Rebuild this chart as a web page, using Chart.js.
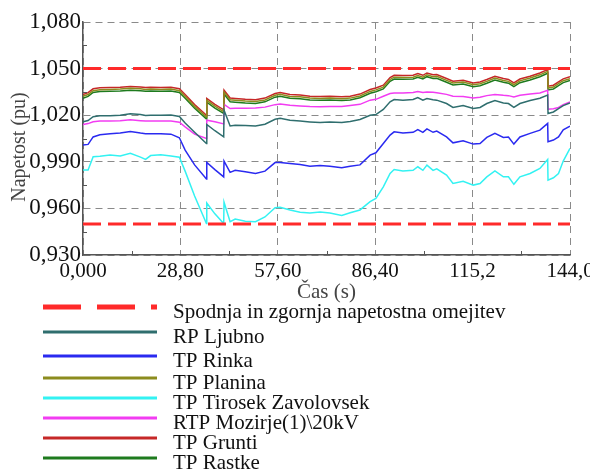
<!DOCTYPE html>
<html>
<head>
<meta charset="utf-8">
<script src="https://cdn.jsdelivr.net/npm/chart.js@4.4.1/dist/chart.umd.min.js"></script>
<style>
  html, body { margin: 0; padding: 0; background: #fff; }
  #wrap { width: 590px; height: 471px; position: relative; }
</style>
</head>
<body>
<div id="wrap"><canvas id="voltage"></canvas></div>
<script>
const time = [0, 1.5, 3, 5, 8, 11, 14, 17, 18.5, 20, 23, 26, 28.5, 30.2, 33, 36.5, 36.6, 39, 41.6, 41.7,
  43.5, 45, 48, 51, 53.8, 56.8, 58.3, 61.2, 64.2, 67.1, 70.1, 73, 76.5, 79, 81.9, 84.9, 86.6, 88.8, 90.8, 92,
  94.6, 97.6, 99, 100.5, 101.7, 103.5, 104.6, 107.5, 109.4, 112.4, 115.4, 117.4, 119.4, 121.8, 124.3, 125.8,
  127.4, 129.2, 132.2, 135.1, 137.4, 137.5, 139.1, 140.6, 142, 144]

const rpLjubno = [1.0157, 1.0166, 1.0190, 1.0196, 1.0196, 1.0200, 1.0210, 1.0205, 1.0198, 1.0200,
  1.0200, 1.0202, 1.0192, 1.0150, 1.0090, 1.0018, 1.0140, 1.0100, 1.0061, 1.0232,
  1.0131, 1.0136, 1.0134, 1.0131, 1.0142, 1.0174, 1.0180, 1.0168, 1.0162, 1.0157,
  1.0153, 1.0157, 1.0153, 1.0160, 1.0172, 1.0200, 1.0204, 1.0237, 1.0286, 1.0301,
  1.0297, 1.0301, 1.0314, 1.0297, 1.0307, 1.0300, 1.0297, 1.0275, 1.0250, 1.0262,
  1.0243, 1.0250, 1.0275, 1.0294, 1.0279, 1.0275, 1.0250, 1.0275, 1.0294, 1.0309,
  1.0329, 1.0211, 1.0221, 1.0243, 1.0262, 1.0279]

const tpRinka = [1.0008, 1.0012, 1.0060, 1.0074, 1.0080, 1.0086, 1.0095, 1.0085, 1.0081, 1.0080,
  1.0081, 1.0078, 1.0055, 0.9975, 0.9880, 0.9790, 0.9896, 0.9850, 0.9803, 0.9904,
  0.9832, 0.9845, 0.9836, 0.9825, 0.9840, 0.9895, 0.9896, 0.9889, 0.9883, 0.9872,
  0.9876, 0.9872, 0.9861, 0.9872, 0.9880, 0.9943, 0.9958, 1.0018, 1.0072, 1.0093,
  1.0086, 1.0090, 1.0108, 1.0090, 1.0112, 1.0090, 1.0098, 1.0060, 1.0022, 1.0035,
  1.0014, 1.0018, 1.0057, 1.0083, 1.0057, 1.0060, 1.0014, 1.0060, 1.0083, 1.0104,
  1.0147, 1.0029, 1.0040, 1.0060, 1.0106, 1.0129]

const tpPlanina = [1.0321, 1.0333, 1.0358, 1.0364, 1.0366, 1.0368, 1.0373, 1.0370, 1.0366, 1.0368,
  1.0366, 1.0368, 1.0358, 1.0321, 1.0257, 1.0188, 1.0296, 1.0258, 1.0223, 1.0349,
  1.0299, 1.0296, 1.0291, 1.0288, 1.0298, 1.0328, 1.0334, 1.0321, 1.0318, 1.0310,
  1.0308, 1.0310, 1.0306, 1.0310, 1.0324, 1.0353, 1.0363, 1.0381, 1.0430, 1.0445,
  1.0443, 1.0445, 1.0456, 1.0445, 1.0460, 1.0448, 1.0450, 1.0424, 1.0407, 1.0413,
  1.0396, 1.0402, 1.0418, 1.0439, 1.0424, 1.0418, 1.0396, 1.0421, 1.0439, 1.0460,
  1.0482, 1.0375, 1.0381, 1.0403, 1.0422, 1.0435]

const tpTirosek = [0.9847, 0.9847, 0.9932, 0.9935, 0.9943, 0.9938, 0.9955, 0.9930, 0.9915, 0.9940,
  0.9945, 0.9938, 0.9930, 0.9840, 0.9680, 0.9502, 0.9635, 0.9565, 0.9502, 0.9640,
  0.9514, 0.9531, 0.9518, 0.9514, 0.9545, 0.9605, 0.9608, 0.9590, 0.9575, 0.9570,
  0.9577, 0.9570, 0.9555, 0.9572, 0.9590, 0.9643, 0.9664, 0.9739, 0.9825, 0.9850,
  0.9841, 0.9845, 0.9868, 0.9845, 0.9879, 0.9845, 0.9855, 0.9814, 0.9761, 0.9775,
  0.9750, 0.9760, 0.9803, 0.9841, 0.9803, 0.9803, 0.9755, 0.9803, 0.9825, 0.9857,
  0.9915, 0.9782, 0.9797, 0.9825, 0.9905, 0.9986]

const rtpMozirje = [1.0140, 1.0146, 1.0158, 1.0162, 1.0162, 1.0164, 1.0170, 1.0165, 1.0162, 1.0162,
  1.0162, 1.0162, 1.0155, 1.0125, 1.0078, 1.0050, 1.0168, 1.0158, 1.0144, 1.0269,
  1.0243, 1.0245, 1.0245, 1.0247, 1.0252, 1.0268, 1.0272, 1.0264, 1.0260, 1.0256,
  1.0254, 1.0256, 1.0256, 1.0262, 1.0270, 1.0297, 1.0302, 1.0322, 1.0340, 1.0343,
  1.0343, 1.0346, 1.0353, 1.0346, 1.0350, 1.0347, 1.0345, 1.0334, 1.0322, 1.0320,
  1.0311, 1.0315, 1.0326, 1.0334, 1.0328, 1.0326, 1.0318, 1.0329, 1.0336, 1.0343,
  1.0361, 1.0239, 1.0241, 1.0250, 1.0268, 1.0286]

const tpGrunti = [1.0333, 1.0345, 1.0370, 1.0376, 1.0378, 1.0380, 1.0385, 1.0382, 1.0378, 1.0380,
  1.0378, 1.0380, 1.0370, 1.0333, 1.0269, 1.0200, 1.0308, 1.0270, 1.0235, 1.0361,
  1.0311, 1.0308, 1.0303, 1.0300, 1.0310, 1.0340, 1.0346, 1.0333, 1.0330, 1.0322,
  1.0320, 1.0322, 1.0318, 1.0322, 1.0336, 1.0365, 1.0375, 1.0393, 1.0442, 1.0457,
  1.0455, 1.0457, 1.0468, 1.0457, 1.0472, 1.0460, 1.0462, 1.0436, 1.0419, 1.0425,
  1.0408, 1.0414, 1.0430, 1.0451, 1.0436, 1.0430, 1.0408, 1.0433, 1.0451, 1.0472,
  1.0494, 1.0387, 1.0393, 1.0415, 1.0434, 1.0447]

const tpRastke = [1.0309, 1.0321, 1.0346, 1.0352, 1.0354, 1.0356, 1.0361, 1.0358, 1.0354, 1.0356,
  1.0354, 1.0356, 1.0346, 1.0309, 1.0245, 1.0176, 1.0284, 1.0246, 1.0211, 1.0337,
  1.0287, 1.0284, 1.0279, 1.0276, 1.0286, 1.0316, 1.0322, 1.0309, 1.0306, 1.0298,
  1.0296, 1.0298, 1.0294, 1.0298, 1.0312, 1.0341, 1.0351, 1.0369, 1.0418, 1.0433,
  1.0431, 1.0433, 1.0444, 1.0433, 1.0448, 1.0436, 1.0438, 1.0412, 1.0395, 1.0401,
  1.0384, 1.0390, 1.0406, 1.0427, 1.0412, 1.0406, 1.0384, 1.0409, 1.0427, 1.0448,
  1.0470, 1.0363, 1.0369, 1.0391, 1.0410, 1.0423]

const limitTime = [0, 144]
const lowerLimit = [0.95, 0.95]
const upperLimit = [1.05, 1.05]

const xTicks = [0, 28.8, 57.6, 86.4, 115.2, 144]
const xTickLabels = ['0,000', '28,80', '57,60', '86,40', '115,2', '144,0']
const yTicks = [0.93, 0.96, 0.99, 1.02, 1.05, 1.08]
const yTickLabels = ['0,930', '0,960', '0,990', '1,020', '1,050', '1,080']

const serif = "'Liberation Serif', 'Times New Roman', serif"
const legendRows = [307, 332, 356, 378, 398, 418, 438, 458]

function points(xs, ys) {
  return xs.map((x, i) => ({ x: x, y: ys[i] }))
}

function series(label, values, color) {
  return {
    label: label,
    data: points(time, values),
    borderColor: color,
    backgroundColor: color,
    borderWidth: 1.5,
    pointRadius: 0,
    tension: 0
  }
}

function limit(label, values, inLegend) {
  return {
    label: label,
    data: points(limitTime, values),
    borderColor: '#ff2a2a',
    backgroundColor: '#ff2a2a',
    borderWidth: 3,
    borderDash: [18, 7],
    pointRadius: 0,
    legendDash: [38, 16],
    skipLegend: !inLegend
  }
}

// legend in one column under the axis, plus y title and minor ticks
const sideParts = {
  id: 'sideParts',
  afterDraw(chart) {
    const ctx = chart.ctx
    const xa = chart.scales.x
    const ya = chart.scales.y
    ctx.save()

    ctx.strokeStyle = '#555'
    ctx.lineWidth = 1
    for (let i = 0; i < yTicks.length - 1; i++) {
      const py = Math.round(ya.getPixelForValue((yTicks[i] + yTicks[i + 1]) / 2)) + 0.5
      ctx.beginPath(); ctx.moveTo(xa.left, py); ctx.lineTo(xa.left + 4, py); ctx.stroke()
    }
    for (let i = 0; i < xTicks.length - 1; i++) {
      const px = Math.round(xa.getPixelForValue((xTicks[i] + xTicks[i + 1]) / 2)) + 0.5
      ctx.beginPath(); ctx.moveTo(px, ya.bottom); ctx.lineTo(px, ya.bottom - 4); ctx.stroke()
    }

    ctx.save()
    ctx.translate(20, 147)
    ctx.rotate(-Math.PI / 2)
    ctx.fillStyle = '#444'
    ctx.font = `20px ${serif}`
    ctx.textAlign = 'center'
    ctx.textBaseline = 'middle'
    ctx.fillText('Napetost (pu)', 0, 0)
    ctx.restore()

    const items = chart.data.datasets.filter(d => !d.skipLegend)
    items.forEach((d, i) => {
      const y = legendRows[i]
      ctx.beginPath()
      ctx.setLineDash(d.legendDash || [])
      ctx.lineWidth = d.legendDash ? 5 : 3
      ctx.strokeStyle = d.borderColor
      ctx.moveTo(43, y)
      ctx.lineTo(157, y)
      ctx.stroke()
      ctx.setLineDash([])
      ctx.fillStyle = '#111'
      ctx.font = `21px ${serif}`
      ctx.textAlign = 'left'
      ctx.textBaseline = 'alphabetic'
      ctx.fillText(d.label, 173, y + 10.5)
    })
    ctx.restore()
  }
}

new Chart(document.getElementById('voltage'), {
  type: 'line',
  data: {
    datasets: [
      limit('Spodnja in zgornja napetostna omejitev', lowerLimit, true),
      limit('Zgornja omejitev', upperLimit, false),
      series('RP Ljubno', rpLjubno, '#2f6e6e'),
      series('TP Rinka', tpRinka, '#2a2af0'),
      series('TP Planina', tpPlanina, '#8c8c1e'),
      series('TP Tirosek Zavolovsek', tpTirosek, '#33f2f2'),
      series('RTP Mozirje(1)\\20kV', rtpMozirje, '#f23cf2'),
      series('TP Grunti', tpGrunti, '#c62828'),
      series('TP Rastke', tpRastke, '#1e7b1e')
    ]
  },
  options: {
    responsive: true,
    maintainAspectRatio: false,
    animation: false,
    layout: { padding: { top: 22, right: 20, bottom: 166, left: 0 } },
    plugins: {
      legend: { display: false },
      tooltip: { enabled: false }
    },
    scales: {
      x: {
        type: 'linear',
        min: 0,
        max: 144,
        afterBuildTicks: s => { s.ticks = xTicks.map(v => ({ value: v })) },
        afterFit: s => { s.height = 50; s.paddingLeft = 0; s.paddingRight = 0 },
        ticks: {
          callback: (v, i) => xTickLabels[i],
          font: { family: serif, size: 21 },
          color: '#111',
          padding: 4,
          maxRotation: 0,
          autoSkip: false
        },
        grid: { color: '#8a8a8a', lineWidth: 1, drawTicks: false },
        border: { color: '#555', width: 1.5, dash: [7, 5] },
        title: { display: true, text: 'Čas (s)', font: { family: serif, size: 21 }, color: '#444', padding: 0 }
      },
      y: {
        min: 0.93,
        max: 1.08,
        afterBuildTicks: s => { s.ticks = yTicks.map(v => ({ value: v })) },
        afterFit: s => { s.width = 83; s.paddingTop = 0; s.paddingBottom = 0 },
        ticks: {
          callback: (v, i) => yTickLabels[i],
          font: { family: serif, size: 23 },
          color: '#111',
          padding: 2
        },
        grid: { color: '#8a8a8a', lineWidth: 1, drawTicks: false },
        border: { color: '#555', width: 1.5, dash: [7, 5] }
      }
    }
  },
  plugins: [sideParts]
})
</script>
</body>
</html>
